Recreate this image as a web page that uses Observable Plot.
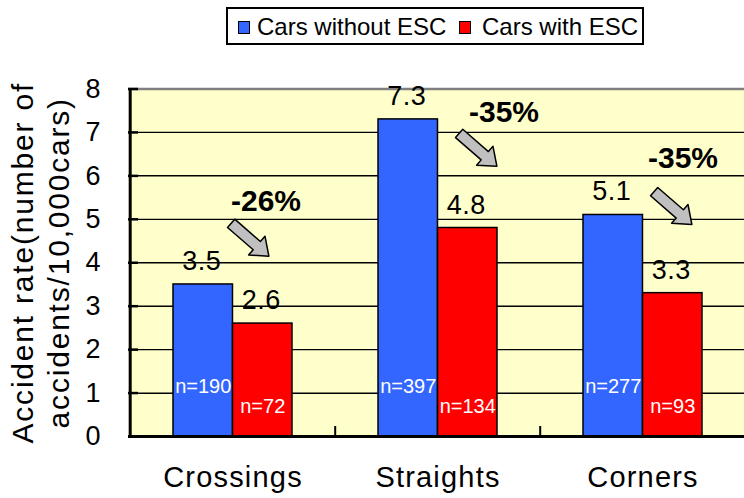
<!DOCTYPE html>
<html>
<head>
<meta charset="utf-8">
<script src="https://cdn.jsdelivr.net/npm/d3@7"></script>
<script src="https://cdn.jsdelivr.net/npm/@observablehq/plot@0.6"></script>
<style>
  html, body { margin: 0; padding: 0; background: #fff; }
  #wrap { position: relative; width: 744px; height: 498px; overflow: hidden; font-family: "Liberation Sans", Arial, sans-serif; }
  #wrap svg { position: absolute; left: 0; top: 0; }
  #bg { position: absolute; background: #ffffcc; }
  #legend { position: absolute; left: 226px; top: 7px; width: 418px; height: 38px; box-sizing: border-box; border: 2px solid #000; background: #fff; }
  .sw { position: absolute; top: 12px; width: 12px; height: 13px; box-sizing: border-box; border: 1.5px solid #000; }
  .lt { position: absolute; top: 4px; font-size: 24px; line-height: 28px; color: #000; white-space: nowrap; }
  .ytitle { letter-spacing: 1.8px; }
  .xlab text { letter-spacing: 1.2px; }
  .vlab { letter-spacing: 0.5px; }
</style>
</head>
<body>
<div id="wrap"><div id="bg"></div></div>
<script>
// ---- data ----
const categories = ["Crossings", "Straights", "Corners"];
const seriesNames = ["Cars without ESC", "Cars with ESC"];
const seriesColors = ["#3366ff", "#ff0000"];
const withoutESC = [3.5, 7.3, 5.1];
const withESC = [2.6, 4.8, 3.3];
const nWithout = [190, 397, 277];
const nWith = [72, 134, 93];
const changes = ["-26%", "-35%", "-35%"];
const yTicks = [0, 1, 2, 3, 4, 5, 6, 7, 8];
const gridValues = [1, 2, 3, 4, 5, 6, 7];
const yTitle = "Accident rate(number of\naccidents/10,000cars)";

// ---- layout ----
const W = 744, H = 498;
const marginLeft = 128, marginTop = 88.5, marginBottom = 62;
const xRange = [128.5, 745.3];
const padInner = 0.421;
const step = (xRange[1] - xRange[0]) / categories.length;
const bandW = step * (1 - padInner);
const half = bandW / 2;                    // width of one bar
const barC = half / 2;                     // offset of a bar centre from the band centre
const frameW = W - marginLeft;

const rowsA = categories.map((c, i) => ({category: c, value: withoutESC[i], n: nWithout[i]}));
const rowsB = categories.map((c, i) => ({category: c, value: withESC[i], n: nWith[i]}));

// annotation placement (y in data units, dx in px from band centre)
const annot = categories.map((c, i) => ({category: c, text: changes[i]}));
const annotTextY = [5.18, 7.23, 6.18];
const annotTextDx = [33, 66, 40];
const annotArrowY = [4.53, 6.6, 5.26];
const annotArrowDx = [17, 40, 30];

const blockArrow = {
  draw(context, l) {
    const sw = 11, hw = 25, hl = 16;
    context.moveTo(-sw / 2, 0);
    context.lineTo(-sw / 2, -(l - hl));
    context.lineTo(-hw / 2, -(l - hl));
    context.lineTo(0, -l);
    context.lineTo(hw / 2, -(l - hl));
    context.lineTo(sw / 2, -(l - hl));
    context.lineTo(sw / 2, 0);
    context.closePath();
  }
};

const marks = [
  Plot.ruleY(gridValues, {stroke: "#000", strokeWidth: 1.3}),
  Plot.ruleY([8], {stroke: "#808080", strokeWidth: 2.5}),
  Plot.barY(rowsA, {x: "category", y: "value", fill: seriesColors[0], stroke: "#000", strokeWidth: 1.5, insetRight: half}),
  Plot.barY(rowsB, {x: "category", y: "value", fill: seriesColors[1], stroke: "#000", strokeWidth: 1.5, insetLeft: half}),
  Plot.ruleY([0], {stroke: "#000", strokeWidth: 3}),
  Plot.ruleX([categories[0]], {dx: -step / 2, stroke: "#000", strokeWidth: 3}),
  Plot.ruleY(yTicks, {stroke: "#000", strokeWidth: 2.5, insetRight: frameW - 10}),
  Plot.ruleX(categories.slice(1), {dx: -step / 2, y1: 0, y2: 0.23, stroke: "#000", strokeWidth: 2}),
  Plot.axisY({ticks: yTicks, tickSize: 0, tickPadding: 28, fontSize: 27, label: null, tickFormat: d => String(d)}),
  Plot.axisX({tickSize: 0, tickPadding: 30, fontSize: 29, label: null, className: "xlab"}),
  Plot.text([yTitle], {frameAnchor: "left", text: d => d, rotate: -90, dx: -60, lineAnchor: "bottom", lineHeight: 1.2, fontSize: 30, textAnchor: "middle", className: "ytitle"}),
  // value labels
  Plot.text(rowsA, {x: "category", y: "value", text: d => d.value.toFixed(1), dx: -barC - 1.5, dy: -14.5, lineAnchor: "bottom", fontSize: 27, fill: "#000", className: "vlab"}),
  Plot.text(rowsB, {x: "category", y: "value", text: d => d.value.toFixed(1), dx: barC - 1.5, dy: -14.5, lineAnchor: "bottom", fontSize: 27, fill: "#000", className: "vlab"}),
  // n labels
  Plot.text(rowsA, {x: "category", y: 1.0, text: d => "n=" + d.n, dx: -barC, lineAnchor: "bottom", fontSize: 20, fill: "#fff"}),
  Plot.text(rowsB, {x: "category", y: 0.54, text: d => "n=" + d.n, dx: barC, lineAnchor: "bottom", fontSize: 20, fill: "#fff"}),
  // change annotations
  ...annot.map((a, i) => Plot.text([a], {x: "category", y: () => annotTextY[i], text: "text", dx: annotTextDx[i], lineAnchor: "bottom", fontSize: 30, fontWeight: "bold", fill: "#000"})),
  ...annot.map((a, i) => Plot.vector([a], {x: "category", y: () => annotArrowY[i], dx: annotArrowDx[i], length: 50, rotate: 131, shape: blockArrow, fill: "#c0c0c0", stroke: "#000", strokeWidth: 1.5}))
];

const chart = Plot.plot({
  width: W, height: H,
  marginTop, marginBottom, marginLeft, marginRight: 0,
  style: {background: "transparent", fontFamily: "'Liberation Sans', Arial, sans-serif", color: "#000", overflow: "visible"},
  x: {domain: categories, range: xRange, paddingInner: padInner, paddingOuter: padInner / 2, axis: null},
  y: {domain: [0, 8], axis: null},
  marks
});

// gridlines placed through the chart's own y scale, inserted beneath the bars
const yScale = chart.scale("y");
const svgNS = "http://www.w3.org/2000/svg";
const gridG = document.createElementNS(svgNS, "g");
gridG.setAttribute("aria-label", "grid");
gridValues.forEach(v => {
  const yy = Math.round(yScale.apply(v)) + 0.5;
  const ln = document.createElementNS(svgNS, "line");
  ln.setAttribute("x1", marginLeft);
  ln.setAttribute("x2", W);
  ln.setAttribute("y1", yy);
  ln.setAttribute("y2", yy);
  ln.setAttribute("stroke", "#000");
  ln.setAttribute("stroke-width", "1");
  gridG.appendChild(ln);
});
const firstBar = chart.querySelector('g[aria-label="bar"]');
if (firstBar && firstBar.parentNode) firstBar.parentNode.insertBefore(gridG, firstBar);
else chart.insertBefore(gridG, chart.firstChild ? chart.firstChild.nextSibling : null);

const wrap = document.getElementById("wrap");
const bg = document.getElementById("bg");
bg.style.left = marginLeft + "px";
bg.style.top = marginTop + "px";
bg.style.width = (W - marginLeft) + "px";
bg.style.height = (H - marginTop - marginBottom) + "px";
wrap.appendChild(chart);

// legend
const legend = document.createElement("div");
legend.id = "legend";
const swX = [10, 231];
const txX = [29, 254];
seriesNames.forEach((name, i) => {
  const sw = document.createElement("div");
  sw.className = "sw";
  sw.style.left = swX[i] + "px";
  sw.style.background = seriesColors[i];
  legend.appendChild(sw);
  const t = document.createElement("div");
  t.className = "lt";
  t.style.left = txX[i] + "px";
  t.textContent = name;
  legend.appendChild(t);
});
wrap.appendChild(legend);
</script>
</body>
</html>
